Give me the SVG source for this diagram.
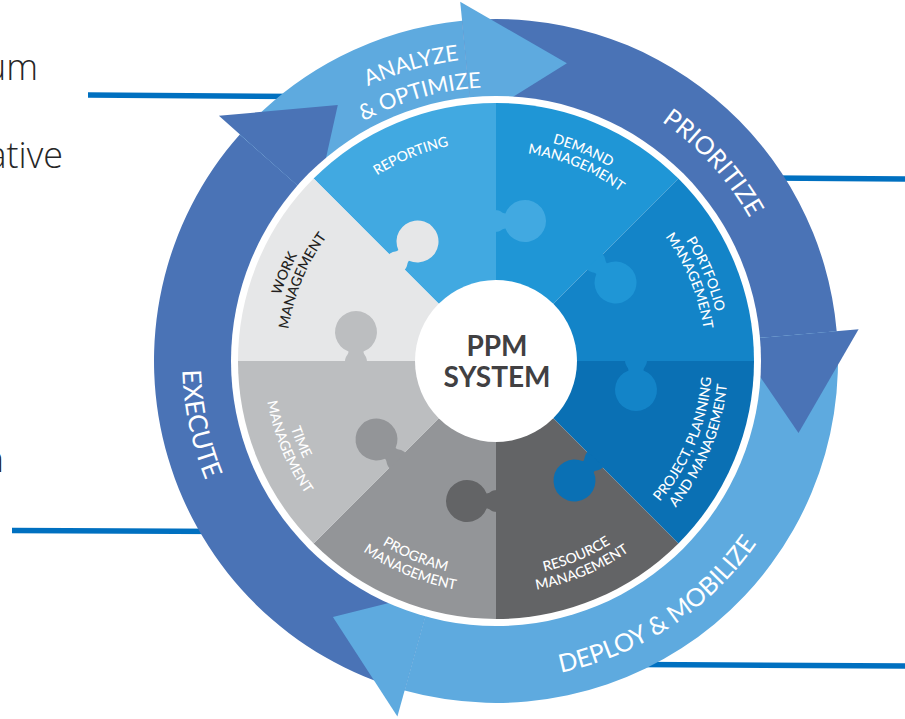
<svg xmlns="http://www.w3.org/2000/svg" width="905" height="719" viewBox="0 0 905 719">
<style>
.side{font-family:"Open Sans","Liberation Sans",sans-serif;font-size:36px;font-weight:300;fill:#262626}
.conn{stroke:#0070c0;stroke-width:5.5;fill:none}
.dk{fill:#4a73b6}
.lt{fill:#5eaadf}
.ring{font-family:Lato,"Liberation Sans",sans-serif;fill:#fff;text-anchor:middle}
.lbl{font-family:Lato,"Liberation Sans",sans-serif;font-size:14px;font-weight:500;fill:#fff;text-anchor:middle}
.dark{fill:#231f20}
.ctr{font-family:Lato,"Liberation Sans",sans-serif;font-size:28px;font-weight:bold;fill:#414042;text-anchor:middle}
</style>
<defs>
<path id="t303" d="M197.6,308.4 A303,303 0 0 1 794.4,308.4"/>
<path id="t274" d="M226.2,313.4 A274,274 0 0 1 765.8,313.4"/>
<path id="t291" d="M209.4,310.5 A291,291 0 0 1 782.6,310.5"/>
<path id="t220" d="M279.3,322.8 A220,220 0 0 1 712.7,322.8"/>
<path id="t225" d="M274.4,321.9 A225,225 0 0 1 717.6,321.9"/>
<path id="t210" d="M289.2,324.5 A210,210 0 0 1 702.8,324.5"/>
<path id="b314" d="M186.8,415.5 A314,314 0 0 0 805.2,415.5"/>
<path id="b318" d="M182.8,416.2 A318,318 0 0 0 809.2,416.2"/>
<path id="b216" d="M283.3,398.5 A216,216 0 0 0 708.7,398.5"/>
<path id="b232" d="M267.5,401.3 A232,232 0 0 0 724.5,401.3"/>
<path id="knob" d="M-1,-11 C5,-11 6,-7.5 9.4,-7.5 A21,21 0 1 1 9.4,7.5 C6,7.5 5,11 -1,11 Z"/>
</defs>

<g id="side-text">
<text class="side" x="38" y="80" text-anchor="end">um</text>
<text class="side" x="63" y="168" text-anchor="end">ative</text>
<text class="side" x="4" y="472" text-anchor="end">n</text>
</g>

<g id="connectors">
<line class="conn" x1="88" y1="95" x2="300" y2="96.5"/>
<line class="conn" x1="770" y1="178" x2="905" y2="179"/>
<line class="conn" x1="12" y1="530.5" x2="230" y2="531.5"/>
<line class="conn" x1="640" y1="664.5" x2="905" y2="666"/>
</g>

<g id="cycle">
<g id="execute">
<path class="dk" d="M404.6,690.5 A342,342 0 0 1 239.8,134.4 L302.8,190 A258,258 0 0 0 427.1,609.6 Z"/>
</g>
<g id="analyze">
<path class="lt" d="M239.8,134.4 A342,342 0 0 1 462,20.7 L470.4,104.3 A258,258 0 0 0 302.8,190 Z"/>
</g>
<g id="prioritize">
<path class="dk" d="M462,20.7 A342,342 0 0 1 836.7,331.2 L753,338.5 A258,258 0 0 0 470.4,104.3 Z"/>
</g>
<g id="deploy">
<path class="lt" d="M836.7,331.2 A342,342 0 0 1 404.6,690.5 L427.1,609.6 A258,258 0 0 0 753,338.5 Z"/>
</g>
<path class="dk" d="M218.9,115.8 L337.8,104.9 L316.2,202 Z"/>
<path class="lt" d="M460.2,1.8 L566.9,63.3 L472.2,122.2 Z"/>
<path class="dk" d="M858.6,329.3 L798.5,433.1 L735.1,340.1 Z"/>
<path class="lt" d="M397.4,716.6 L332.9,617 L431.9,592.3 Z"/>
<text class="ring" font-size="22" transform="rotate(-16 496 361)"><textPath href="#t303" startOffset="50%">ANALYZE</textPath></text>
<text class="ring" font-size="22" transform="rotate(-16 496 361)"><textPath href="#t274" startOffset="50%">&amp; OPTIMIZE</textPath></text>
<text class="ring" font-size="25" transform="rotate(47.6 496 361)"><textPath href="#t291" startOffset="50%">PRIORITIZE</textPath></text>
<text class="ring" font-size="26" transform="rotate(78 496 361)"><textPath href="#b314" startOffset="50%">EXECUTE</textPath></text>
<text class="ring" font-size="25" transform="rotate(-33.4 496 361)"><textPath href="#b318" startOffset="50%">DEPLOY &amp; MOBILIZE</textPath></text>
</g>

<circle cx="496" cy="361" r="265" fill="#fff"/>

<g id="puzzle">
<g id="reporting">
<path fill="#41a9e1" d="M496,361 L313.6,178.6 A258,258 0 0 1 496,103 Z"/>
<use href="#knob" fill="#e6e7e8" transform="translate(397 262) rotate(315)"/>
<text class="lbl" transform="rotate(-22.5 496 361)"><textPath href="#t220" startOffset="50%">REPORTING</textPath></text>
</g>
<g id="demand">
<path fill="#1f96d6" d="M496,361 L496,103 A258,258 0 0 1 678.4,178.6 Z"/>
<use href="#knob" fill="#41a9e1" transform="translate(496 221)"/>
<text class="lbl" transform="rotate(22.5 496 361)"><textPath href="#t225" startOffset="50%">DEMAND</textPath></text>
<text class="lbl" transform="rotate(22.5 496 361)"><textPath href="#t210" startOffset="50%">MANAGEMENT</textPath></text>
</g>
<g id="portfolio">
<path fill="#1384c8" d="M496,361 L678.4,178.6 A258,258 0 0 1 754,361 Z"/>
<use href="#knob" fill="#1f96d6" transform="translate(595 262) rotate(45)"/>
<text class="lbl" transform="rotate(67.5 496 361)"><textPath href="#t225" startOffset="50%">PORTFOLIO</textPath></text>
<text class="lbl" transform="rotate(67.5 496 361)"><textPath href="#t210" startOffset="50%">MANAGEMENT</textPath></text>
</g>
<g id="project">
<path fill="#0a70b4" d="M496,361 L754,361 A258,258 0 0 1 678.4,543.4 Z"/>
<use href="#knob" fill="#1384c8" transform="translate(636 361) rotate(90)"/>
<text class="lbl" transform="rotate(-67.5 496 361)"><textPath href="#b216" startOffset="50%">PROJECT, PLANNING</textPath></text>
<text class="lbl" transform="rotate(-67.5 496 361)"><textPath href="#b232" startOffset="50%">AND MANAGEMENT</textPath></text>
</g>
<g id="resource">
<path fill="#636466" d="M496,361 L678.4,543.4 A258,258 0 0 1 496,619 Z"/>
<use href="#knob" fill="#0a70b4" transform="translate(595 460) rotate(135)"/>
<text class="lbl" transform="rotate(-22.5 496 361)"><textPath href="#b216" startOffset="50%">RESOURCE</textPath></text>
<text class="lbl" transform="rotate(-22.5 496 361)"><textPath href="#b232" startOffset="50%">MANAGEMENT</textPath></text>
</g>
<g id="program">
<path fill="#939598" d="M496,361 L496,619 A258,258 0 0 1 313.6,543.4 Z"/>
<use href="#knob" fill="#636466" transform="translate(496 501) rotate(180)"/>
<text class="lbl" transform="rotate(22.5 496 361)"><textPath href="#b216" startOffset="50%">PROGRAM</textPath></text>
<text class="lbl" transform="rotate(22.5 496 361)"><textPath href="#b232" startOffset="50%">MANAGEMENT</textPath></text>
</g>
<g id="time">
<path fill="#bcbec0" d="M496,361 L313.6,543.4 A258,258 0 0 1 238,361 Z"/>
<use href="#knob" fill="#939598" transform="translate(397 460) rotate(225)"/>
<text class="lbl" transform="rotate(67.5 496 361)"><textPath href="#b216" startOffset="50%">TIME</textPath></text>
<text class="lbl" transform="rotate(67.5 496 361)"><textPath href="#b232" startOffset="50%">MANAGEMENT</textPath></text>
</g>
<g id="work">
<path fill="#e6e7e8" d="M496,361 L238,361 A258,258 0 0 1 313.6,178.6 Z"/>
<use href="#knob" fill="#bcbec0" transform="translate(356 361) rotate(270)"/>
<text class="lbl dark" transform="rotate(-67.5 496 361)"><textPath href="#t225" startOffset="50%">WORK</textPath></text>
<text class="lbl dark" transform="rotate(-67.5 496 361)"><textPath href="#t210" startOffset="50%">MANAGEMENT</textPath></text>
</g>
</g>

<g id="ppm-system">
<circle cx="496" cy="361" r="81" fill="#fff"/>
<text class="ctr" x="497" y="356">PPM</text>
<text class="ctr" x="497" y="387">SYSTEM</text>
</g>
</svg>
